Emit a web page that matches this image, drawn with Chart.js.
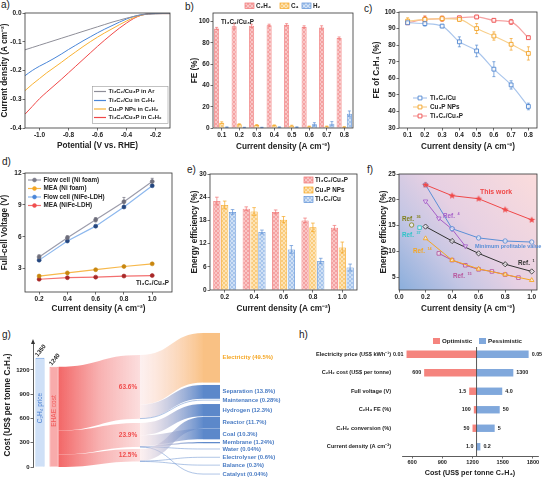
<!DOCTYPE html>
<html><head><meta charset="utf-8">
<script src="https://cdn.jsdelivr.net/npm/chart.js@4.4.1/dist/chart.umd.min.js"></script>
<style>
body{margin:0;width:546px;height:479px;position:relative;background:#fff;overflow:hidden;font-family:'Liberation Sans',Arial,sans-serif}
canvas{position:absolute}
.pl{position:absolute;font-size:10px;line-height:10px;color:#222}
</style></head><body>
<div class="pl" style="left:1px;top:0px">a)</div>
<div class="pl" style="left:185px;top:2px">b)</div>
<div class="pl" style="left:364px;top:4px">c)</div>
<div class="pl" style="left:2px;top:157px">d)</div>
<div class="pl" style="left:187px;top:165px">e)</div>
<div class="pl" style="left:367px;top:165px">f)</div>
<div class="pl" style="left:2px;top:330px">g)</div>
<div class="pl" style="left:299px;top:330px">h)</div>
<script>
// ================= DATA =================
// a) LSV curves
const potential = [-1.1,-1.05,-1.0,-0.95,-0.9,-0.85,-0.8,-0.75,-0.7,-0.65,-0.6,-0.55,-0.5,-0.45,-0.4,-0.35,-0.3,-0.25,-0.2,-0.15,-0.1];
const jArTi3C2Cu3P = [-0.128,-0.120,-0.112,-0.104,-0.096,-0.088,-0.080,-0.072,-0.064,-0.056,-0.048,-0.040,-0.032,-0.025,-0.018,-0.012,-0.007,-0.004,-0.003,-0.002,-0.002];
const jC2H2Ti3C2Cu = [-0.218,-0.200,-0.185,-0.172,-0.158,-0.143,-0.127,-0.112,-0.097,-0.083,-0.069,-0.056,-0.044,-0.032,-0.021,-0.012,-0.006,-0.003,-0.002,-0.002,-0.002];
const jC2H2Cu3P = [-0.270,-0.248,-0.228,-0.208,-0.190,-0.172,-0.153,-0.135,-0.117,-0.100,-0.084,-0.069,-0.055,-0.041,-0.028,-0.016,-0.008,-0.003,-0.002,-0.002,-0.002];
const jC2H2Ti3C2Cu3P = [-0.352,-0.325,-0.298,-0.275,-0.253,-0.231,-0.208,-0.185,-0.162,-0.139,-0.116,-0.094,-0.073,-0.053,-0.035,-0.019,-0.008,-0.003,-0.002,-0.002,-0.002];
const lsvNames = ['Ti₃C₂/Cu₃P in Ar','Ti₃C₂/Cu in C₂H₂','Cu₃P NPs in C₂H₂','Ti₃C₂/Cu₃P in C₂H₂'];

// b) FE of products
const jB = ['0.1','0.2','0.3','0.4','0.5','0.6','0.7','0.8'];
const feC2H4 = [93.5,95.5,96,96.5,97,95,94.5,84.5];
const feC2H4Err = [1,2.5,1.5,1,1,1,1.5,1];
const feC4 = [5,3.5,2.8,2.5,2.2,1.5,1.5,1.0];
const feC4Err = [0.8,0.5,0.4,0.4,0.4,0.3,0.3,0.2];
const feH2 = [0.8,0.5,0.5,0.8,0.8,3.5,4,13.5];
const feH2Err = [0.2,0.2,0.2,0.3,0.3,1.5,2,2.5];

// c) FE of C2H4
const jC = [0.1,0.2,0.3,0.4,0.5,0.6,0.7,0.8];
const feCu = [93.5,93,91.5,82,76.5,65.5,56,43];
const feCuErr = [1,1.5,1,3,3.5,4.5,2.5,2];
const feCu3P = [94.5,95.5,96,95.5,90,85.5,80.5,75];
const feCu3PErr = [2,2,1.5,1,3,2.5,3.5,4];
const feTiCu3P = [93.5,95.5,96,96.5,97,95,94,84.5];
const feTiCu3PErr = [1,2,1.5,1,1,1,1.5,1];
const cNames = ['Ti₃C₂/Cu','Cu₃P NPs','Ti₃C₂/Cu₃P'];

// d) full-cell voltage
const jD = [0.2,0.4,0.6,0.8,1.0];
const vFlowNi = [4.1,5.9,7.6,9.3,11.2];
const vMeaNi = [2.3,2.6,2.9,3.2,3.45];
const vFlowLdh = [3.8,5.6,7.0,8.8,10.8];
const vMeaLdh = [2.0,2.15,2.2,2.3,2.35];
const vFlowNiErr = [0.2,0.2,0.2,0.4,0.3];
const dNames = ['Flow cell (Ni foam)','MEA (Ni foam)','Flow cell (NiFe-LDH)','MEA (NiFe-LDH)'];

// e) energy efficiency
const jE = ['0.2','0.4','0.6','0.8','1.0'];
const eeTiCu3P = [23,21,20.2,18,16.1];
const eeTiCu3PErr = [1,0.5,0.5,0.6,0.6];
const eeCu3P = [22,20.3,18.2,16.2,11];
const eeCu3PErr = [1,1,0.8,1.1,1.4];
const eeTiCu = [20.2,15,10.5,7.5,5.8];
const eeTiCuErr = [0.6,0.5,1,0.7,0.9];
const eNames = ['Ti₃C₂/Cu₃P','Cu₃P NPs','Ti₃C₂/Cu'];

// f) comparison
const thisWorkJ = [0.2,0.4,0.6,0.8,1.0], thisWorkEE = [22.9,20.8,20.2,18.1,16.1];
const minProfJ = [0.2,0.4,0.6,0.8,1.0], minProfEE = [22.9,14.4,12.6,12.0,11.8];
const ref4J = [0.2,0.3,0.4,0.5], ref4EE = [19.7,16.4,14.3,11.0];
const ref1J = [0.2,0.4,0.6,0.8,1.0], ref1EE = [14.8,12.0,9.6,7.5,6.1];
const ref14J = [0.2,0.4,0.6,0.8,1.0], ref14EE = [12.5,8.3,6.6,5.5,4.4];
const ref15J = [0.3,0.4,0.5,0.6,0.7,0.8,0.9], ref15EE = [9.6,8.3,7.3,6.5,6.1,5.5,4.9];
const ref36J = [0.095], ref36EE = [15.1];
const ref37J = [0.155], ref37EE = [14.6];

// g) cost breakdown
const c2h4Price = 1350;
const ehaeCost = 1240;
const groupShares = [63.6, 23.9, 12.5];
const costNames = ['Electricity','Separation','Maintenance','Hydrogen','Reactor','Coal','Membrane','Water','Electrolyser','Balance','Catalyst'];
const costShares = [49.5,13.8,0.28,12.3,11.7,10.3,1.24,0.04,0.6,0.3,0.04];
const costGroup = [0,0,0,1,2,1,1,1,2,2,1];

// h) sensitivity
const sensParams = ['Electricity price (US$ kWh⁻¹)','C₂H₂ cost (US$ per tonne)','Full voltage (V)','C₂H₄ FE (%)','C₂H₂ conversion (%)','Current density (A cm⁻²)'];
const baseCost = 1240;
const optCost = [545,720,1167,1213,1200,1240];
const pessCost = [1757,1605,1495,1470,1420,1278];
const optLabels = ['0.01','600','1.5','100','50','1.0'];
const pessLabels = ['0.05','1300','4.0','50','5','0.2'];

// ================= LAYOUT (sankey node placement, value units) =================
const midBandTop = [1386, 545, 223];
const nodeTop = [1658,1015,829,779,619,470,309,223,124,25,-87];

// ================= HELPERS =================
const FF = "'Liberation Sans', Arial, Helvetica, sans-serif";
Chart.defaults.font.family = FF;
Chart.defaults.font.weight = 'bold';
Chart.defaults.color = '#222';
Chart.defaults.plugins.legend.display = false;
Chart.defaults.plugins.tooltip.enabled = false;
const TITLE = 8.2;

function T(ctx, s, x, y, size, color, align, opt) {
  opt = opt || {};
  ctx.save();
  ctx.font = (opt.w || 'bold') + ' ' + size + 'px ' + FF;
  ctx.fillStyle = color || '#222';
  ctx.textAlign = align || 'left';
  ctx.textBaseline = opt.b || 'middle';
  ctx.translate(x, y);
  if (opt.r) ctx.rotate(opt.r);
  ctx.fillText(s, 0, 0);
  ctx.restore();
}
function TS(ctx, main, sup, x, y, size, color) {
  ctx.save();
  ctx.font = 'bold ' + size + 'px ' + FF;
  ctx.fillStyle = color; ctx.textAlign = 'left'; ctx.textBaseline = 'middle';
  ctx.fillText(main, x, y);
  const w = ctx.measureText(main).width;
  ctx.font = 'bold ' + (size * 0.6) + 'px ' + FF;
  ctx.fillText(sup, x + w + 0.8, y - size * 0.4);
  ctx.restore();
}
function hatch(bg, ln) {
  const p = document.createElement('canvas'); p.width = 4; p.height = 4;
  const c = p.getContext('2d'); c.fillStyle = bg; c.fillRect(0, 0, 4, 4);
  c.strokeStyle = ln; c.lineWidth = 0.7; c.beginPath();
  c.moveTo(0, 0); c.lineTo(4, 4); c.moveTo(4, 0); c.lineTo(0, 4); c.stroke();
  return c.createPattern(p, 'repeat');
}
function starImg(color, r) {
  const c = document.createElement('canvas'); const s = Math.ceil(r * 2 + 2); c.width = c.height = s;
  const x = c.getContext('2d'); x.fillStyle = color; x.beginPath();
  for (let i = 0; i < 10; i++) { const a = -Math.PI / 2 + i * Math.PI / 5; const rr = i % 2 ? r * 0.45 : r; x.lineTo(s / 2 + rr * Math.cos(a), s / 2 + rr * Math.sin(a)); }
  x.closePath(); x.fill(); return c;
}
function pt(ctx, style, r, x, y, fill, stroke, bw, rot) {
  ctx.save(); ctx.fillStyle = fill; ctx.strokeStyle = stroke; ctx.lineWidth = bw;
  Chart.helpers.drawPoint(ctx, {pointStyle: style, radius: r, borderWidth: bw, rotation: rot || 0}, x, y);
  ctx.restore();
}
function ax(o) {
  const a = {
    type: o.type || 'linear',
    ticks: { font: {size: o.fs || 6.5, weight: 'bold', family: FF}, color: '#222', padding: o.tp != null ? o.tp : 1, maxRotation: 0, autoSkip: false },
    grid: { display: true, drawOnChartArea: false, drawTicks: true, tickLength: 2.5, color: '#333', lineWidth: 0.7, offset: false },
    border: { display: !!o.border, color: '#333', width: 0.8 },
    title: { display: !!o.title, text: o.title, font: {size: o.ts || TITLE, weight: 'bold', family: FF}, color: '#222', padding: {top: o.pt || 0, bottom: o.pb || 0} }
  };
  if (a.type === 'linear') {
    a.min = o.min; a.max = o.max;
    const tk = o.ticks;
    a.afterBuildTicks = s => { s.ticks = tk.map(v => ({value: v})); };
    if (o.fmt) a.ticks.callback = o.fmt;
  } else { a.offset = true; }
  return a;
}
Chart.register({
  id: 'frame',
  afterDraw(ch, a, opts) {
    if (!opts || !opts.on) return;
    const c = ch.ctx, ca = ch.chartArea;
    c.save(); c.strokeStyle = '#333'; c.lineWidth = 0.8;
    c.strokeRect(ca.left, ca.top, ca.right - ca.left, ca.bottom - ca.top); c.restore();
  }
});
function drawErr(ch) {
  const ctx = ch.ctx;
  ch.data.datasets.forEach((ds, i) => {
    if (!ds.err) return;
    const meta = ch.getDatasetMeta(i);
    const ys = ch.scales[meta.yAxisID];
    ctx.save(); ctx.strokeStyle = ds.errColor || ds.borderColor; ctx.lineWidth = 0.7;
    meta.data.forEach((el, j) => {
      const d = ds.data[j]; const v = (typeof d === 'object') ? d.y : d;
      const e = ds.err[j]; if (!e) return;
      const y1 = ys.getPixelForValue(v + e), y2 = ys.getPixelForValue(v - e);
      const x = el.x, cw = ds.capW || 1.5;
      ctx.beginPath(); ctx.moveTo(x, y1); ctx.lineTo(x, y2);
      ctx.moveTo(x - cw, y1); ctx.lineTo(x + cw, y1); ctx.moveTo(x - cw, y2); ctx.lineTo(x + cw, y2); ctx.stroke();
    });
    ctx.restore();
  });
}
Chart.register({
  id: 'errbars',
  beforeDatasetsDraw(ch) { if (ch.config.type !== 'bar') drawErr(ch); },
  afterDatasetsDraw(ch) { if (ch.config.type === 'bar') drawErr(ch); }
});
function mk(rect, area, cfg, hooks) {
  hooks = hooks || {};
  const cv = document.createElement('canvas');
  cv.width = rect.w; cv.height = rect.h;
  cv.style.left = rect.x + 'px'; cv.style.top = rect.y + 'px';
  cv.style.width = rect.w + 'px'; cv.style.height = rect.h + 'px';
  document.body.appendChild(cv);
  const o = cfg.options = cfg.options || {};
  o.responsive = false; o.animation = false; o.devicePixelRatio = 1;
  o.layout = { padding: { left: 0, top: area.t - rect.y, right: rect.x + rect.w - area.r, bottom: 0 } };
  o.scales.x.afterFit = s => { s.height = rect.y + rect.h - area.b; };
  o.scales.y.afterFit = s => { s.width = area.l - rect.x; };
  cfg.plugins = [{
    id: 'ov',
    beforeDatasetsDraw(ch) { if (hooks.before) { ch.ctx.save(); ch.ctx.translate(-rect.x, -rect.y); hooks.before(ch.ctx, ch, rect); ch.ctx.restore(); } },
    afterDraw(ch) { if (hooks.after) { ch.ctx.save(); ch.ctx.translate(-rect.x, -rect.y); hooks.after(ch.ctx, ch, rect); ch.ctx.restore(); } }
  }];
  return new Chart(cv, cfg);
}
const xy = (xs, ys) => xs.map((x, i) => ({x, y: ys[i]}));
const f1 = v => v.toFixed(1);

// ================= a =================
const lsvSeries = [jArTi3C2Cu3P, jC2H2Ti3C2Cu, jC2H2Cu3P, jC2H2Ti3C2Cu3P];
const lsvColors = ['#8E8E98', '#4A86D8', '#F9B233', '#F04848'];
mk({x:0, y:0, w:180, h:155}, {l:25, r:170, t:13, b:128}, {
  type: 'line',
  data: { datasets: lsvSeries.map((s, i) => ({ data: xy(potential, s), borderColor: lsvColors[i], borderWidth: 1, pointRadius: 0, cubicInterpolationMode: 'monotone' })) },
  options: { scales: {
    x: ax({min:-1.1, max:-0.1, ticks:[-1.0,-0.8,-0.6,-0.4,-0.2], fmt:f1, title:'Potential (V vs. RHE)', pb:4}),
    y: ax({min:-0.4, max:0, ticks:[0,-0.1,-0.2,-0.3,-0.4], fmt:f1, title:'Current density (A cm⁻²)', pt:0.2})
  }, plugins: { frame: {on: true} } }
}, { after(ctx) {
  ctx.strokeStyle = '#9a9a9a'; ctx.lineWidth = 0.6; ctx.strokeRect(92.5, 86.5, 75.5, 37);
  const ly = [91.5, 100.5, 109, 117.5];
  lsvNames.forEach((n, i) => {
    ctx.strokeStyle = lsvColors[i]; ctx.lineWidth = 1.2; ctx.beginPath(); ctx.moveTo(94, ly[i]); ctx.lineTo(106, ly[i]); ctx.stroke();
    T(ctx, n, 108.5, ly[i], 5.9, '#222', 'left');
  });
}});

// ================= b =================
const patPink = hatch('#F9C6C6', '#F29090');
const patOrange = hatch('#FDE3B6', '#F8C060');
const patBlue = hatch('#CFE0F5', '#93B7E6');
mk({x:180, y:0, w:182, h:155}, {l:213, r:353, t:13, b:128}, {
  type: 'bar',
  data: { labels: jB, datasets: [
    {data: feC2H4, err: feC2H4Err, backgroundColor: patPink, borderColor: '#F07272', borderWidth: 0.8, categoryPercentage: 0.88, barPercentage: 0.97},
    {data: feC4, err: feC4Err, backgroundColor: patOrange, borderColor: '#F5A623', borderWidth: 0.8, categoryPercentage: 0.88, barPercentage: 0.97},
    {data: feH2, err: feH2Err, backgroundColor: patBlue, borderColor: '#5B8FD6', borderWidth: 0.8, categoryPercentage: 0.88, barPercentage: 0.97}
  ]},
  options: { scales: {
    x: ax({type:'category', title:'Current density (A cm⁻²)', pb:3.2}),
    y: ax({min:0, max:108, ticks:[0,20,40,60,80,100], fmt:v => String(v), title:'FE (%)', pt:10.2})
  }, plugins: { frame: {on: true} } }
}, { after(ctx) {
  T(ctx, 'Ti₃C₂/Cu₃P', 221, 22, 6.3, '#222', 'left');
  const lx = [245, 280, 302], lab = ['C₂H₄', 'C₄', 'H₂'], pats = [patPink, patOrange, patBlue], bc = ['#F07272', '#F5A623', '#5B8FD6'];
  lab.forEach((l, i) => {
    ctx.fillStyle = pats[i]; ctx.fillRect(lx[i], 3, 9, 5.5);
    ctx.strokeStyle = bc[i]; ctx.lineWidth = 0.7; ctx.strokeRect(lx[i], 3, 9, 5.5);
    T(ctx, l, lx[i] + 11, 6, 6.3, '#222', 'left');
  });
}});

// ================= c =================
const cLine = ['#A9C5EC', '#F8CF8B', '#F6A3A3'], cMark = ['#4F86D0', '#F2A124', '#EE4F4F'];
const cData = [[feCu, feCuErr], [feCu3P, feCu3PErr], [feTiCu3P, feTiCu3PErr]];
mk({x:362, y:0, w:184, h:155}, {l:399, r:537, t:12, b:128}, {
  type: 'line',
  data: { datasets: cData.map((d, i) => ({ data: xy(jC, d[0]), err: d[1], errColor: cMark[i], borderColor: cLine[i], borderWidth: 1.2, cubicInterpolationMode: 'monotone',
    pointStyle: 'rect', pointRadius: 2.7, pointBorderWidth: 0.9, pointBorderColor: cMark[i], pointBackgroundColor: 'rgba(255,255,255,0.85)' })) },
  options: { scales: {
    x: ax({min:0.05, max:0.85, ticks:jC, fmt:f1, title:'Current density (A cm⁻²)', pb:3.2}),
    y: ax({min:30, max:100, ticks:[30,40,50,60,70,80,90,100], fmt:v => String(v), title:'FE of C₂H₄ (%)', pt:10.2})
  }, plugins: { frame: {on: true} } }
}, { after(ctx) {
  const ly = [98, 107, 116];
  cNames.forEach((n, i) => {
    ctx.strokeStyle = cLine[i]; ctx.lineWidth = 1.2; ctx.beginPath(); ctx.moveTo(413, ly[i]); ctx.lineTo(427, ly[i]); ctx.stroke();
    pt(ctx, 'rect', 2.7, 420, ly[i], '#fff', cMark[i], 0.9);
    T(ctx, n, 430, ly[i], 6.3, '#222', 'left');
  });
}});

// ================= d =================
const dLine = ['#9C9CAB', '#F7B84B', '#8DB8EE', '#F37070'];
const dMark = ['#6E6E7C', '#C8860E', '#24467F', '#A82828'];
const dLeg = ['#7C7C8A', '#F5A623', '#4A86D8', '#EF5050'];
const dSeries = [vFlowNi, vMeaNi, vFlowLdh, vMeaLdh];
mk({x:0, y:155, w:180, h:160}, {l:25, r:172, t:173, b:292}, {
  type: 'line',
  data: { datasets: dSeries.map((s, i) => ({ data: xy(jD, s), err: i === 0 ? vFlowNiErr : null, errColor: dMark[i], borderColor: dLine[i], borderWidth: 1.2,
    pointStyle: 'circle', pointRadius: 2, pointBorderWidth: 0.6, pointBorderColor: dMark[i], pointBackgroundColor: dMark[i] })) },
  options: { scales: {
    x: ax({min:0.1, max:1.14, ticks:jD, fmt:f1, title:'Current density (A cm⁻²)', pb:1.2}),
    y: ax({min:0.8, max:12, ticks:[3,6,9,12], fmt:v => String(v), title:'Full-cell Voltage (V)', pt:0.2})
  }, plugins: { frame: {on: true} } }
}, { after(ctx) {
  const ly = [180, 188.5, 197, 205.5];
  dNames.forEach((n, i) => {
    ctx.strokeStyle = dLine[i]; ctx.lineWidth = 1.2; ctx.beginPath(); ctx.moveTo(28, ly[i]); ctx.lineTo(41, ly[i]); ctx.stroke();
    pt(ctx, 'circle', 2, 34.5, ly[i], dLeg[i], dLeg[i], 0.5);
    T(ctx, n, 43.5, ly[i], 6.3, '#222', 'left');
  });
  T(ctx, 'Ti₃C₂/Cu₃P', 169, 283, 6.3, '#222', 'right');
}});

// ================= e =================
const eBorder = ['#F07272', '#F5A623', '#5B8FD6'], ePats = [patPink, patOrange, patBlue];
const eData = [[eeTiCu3P, eeTiCu3PErr], [eeCu3P, eeCu3PErr], [eeTiCu, eeTiCuErr]];
mk({x:180, y:155, w:182, h:160}, {l:210, r:357, t:174, b:290}, {
  type: 'bar',
  data: { labels: jE, datasets: eData.map((d, i) => ({ data: d[0], err: d[1], backgroundColor: ePats[i], borderColor: eBorder[i], borderWidth: 0.8, categoryPercentage: 0.8, barPercentage: 0.92, capW: 1.8 })) },
  options: { scales: {
    x: ax({type:'category', title:'Current density (A cm⁻²)', pb:1.2}),
    y: ax({min:0, max:30, ticks:[0,6,12,18,24,30], fmt:v => String(v), title:'Energy efficiency (%)', pt:10.2})
  }, plugins: { frame: {on: true} } }
}, { after(ctx) {
  const ly = [180, 190, 199.5];
  eNames.forEach((n, i) => {
    ctx.fillStyle = ePats[i]; ctx.fillRect(304, ly[i] - 3, 9, 6);
    ctx.strokeStyle = eBorder[i]; ctx.lineWidth = 0.7; ctx.strokeRect(304, ly[i] - 3, 9, 6);
    T(ctx, n, 315, ly[i], 6.3, '#222', 'left');
  });
}});

// ================= f =================
const starRed = starImg('#F04848', 3.6);
const fSets = [
  {j: thisWorkJ, v: thisWorkEE, c: '#F04848', ps: starRed, r: 3.6},
  {j: minProfJ, v: minProfEE, c: '#5B8FD6', ps: 'circle', r: 2.2},
  {j: ref4J, v: ref4EE, c: '#A65FC8', ps: 'triangle', r: 2.6, rot: 180},
  {j: ref1J, v: ref1EE, c: '#333333', ps: 'rectRot', r: 2.6},
  {j: ref14J, v: ref14EE, c: '#F5A623', ps: 'triangle', r: 2.6},
  {j: ref15J, v: ref15EE, c: '#B8569C', ps: 'rect', r: 2.5},
  {j: ref36J, v: ref36EE, c: '#8A8A22', ps: 'circle', r: 2.2},
  {j: ref37J, v: ref37EE, c: '#2EC4C8', ps: 'rect', r: 2.5}
];
mk({x:362, y:155, w:184, h:160}, {l:399, r:537, t:174, b:290}, {
  type: 'line',
  data: { datasets: fSets.map((s, i) => ({ data: xy(s.j, s.v), order: i === 0 ? -1 : i, borderColor: s.c, borderWidth: 1, pointStyle: s.ps, pointRadius: s.r, pointRotation: s.rot || 0,
    pointBorderColor: s.c, pointBorderWidth: 0.9, pointBackgroundColor: 'rgba(255,255,255,0.55)' })) },
  options: { scales: {
    x: ax({min:0, max:1.04, ticks:[0,0.2,0.4,0.6,0.8,1.0], fmt:f1, title:'Current density (A cm⁻²)', pb:1.2}),
    y: ax({min:2.5, max:25, ticks:[5,10,15,20,25], fmt:v => String(v), title:'Energy efficiency (%)', pt:17.2})
  }, plugins: { frame: {on: true} } }
}, {
  before(ctx, ch, R) {
    const ca = ch.chartArea;
    const l = ca.left + R.x, t = ca.top + R.y, r = ca.right + R.x, b = ca.bottom + R.y;
    const g = ctx.createLinearGradient(l, b, r, t);
    g.addColorStop(0, '#8AAEDC'); g.addColorStop(0.28, '#C4C6E4'); g.addColorStop(0.52, '#E6D0E3'); g.addColorStop(1, '#FBDCDC');
    ctx.fillStyle = g; ctx.fillRect(l, t, r - l, b - t);
  },
  after(ctx) {
    T(ctx, 'This work', 480, 192, 6.9, '#F04848', 'left');
    TS(ctx, 'Ref. ', '4', 443, 216, 6.3, '#A65FC8');
    TS(ctx, 'Ref. ', '36', 402, 219, 6.3, '#7F7F1A');
    TS(ctx, 'Ref. ', '37', 402, 235, 6.3, '#2EC4C8');
    TS(ctx, 'Ref. ', '14', 413, 251.5, 6.3, '#F5A623');
    T(ctx, 'Minimum profitable value', 475, 246.5, 5.5, '#5B8FD6', 'left');
    TS(ctx, 'Ref. ', '1', 518, 263, 6.3, '#333');
    TS(ctx, 'Ref. ', '15', 453, 276.5, 6.3, '#B8569C');
  }
});

// ================= g =================
function band(ctx, xa, ya1, ya2, xb, yb1, yb2, fill) {
  const xc = (xa + xb) / 2;
  ctx.beginPath();
  ctx.moveTo(xa, ya1);
  ctx.bezierCurveTo(xc, ya1, xc, yb1, xb, yb1);
  ctx.lineTo(xb, yb2);
  ctx.bezierCurveTo(xc, yb2, xc, ya2, xa, ya2);
  ctx.closePath();
  ctx.fillStyle = fill; ctx.fill();
}
mk({x:0, y:318, w:284, h:161}, {l:33, r:61, t:343, b:467}, {
  type: 'bar',
  data: { labels: ['C₂H₄ price', 'EHAE cost'], datasets: [{ data: [c2h4Price, ehaeCost], backgroundColor: ['#CFE0F7', '#F8ABAB'], borderColor: ['#6E9FE2', '#F47B7B'], borderWidth: 0.8, categoryPercentage: 1, barPercentage: 0.64 }] },
  options: { scales: {
    x: { type: 'category', display: true, ticks: {display: false}, grid: {display: false}, border: {display: false} },
    y: ax({min:0, max:1534, ticks:[0,300,600,900,1200], fmt:v => String(v), title:'Cost (US$ per tonne C₂H₄)', pt:3.2, border:true, fs:6})
  } }
}, { after(ctx, ch, R) {
  const ys = ch.scales.y, ca = ch.chartArea;
  const py = v => ys.getPixelForValue(v) + R.y;
  const bars = ch.getDatasetMeta(0).data;
  const blue = bars[0], red = bars[1];
  const axx = ca.left + R.x, axt = ca.top + R.y;
  ctx.fillStyle = '#333'; ctx.beginPath(); ctx.moveTo(axx, axt - 4); ctx.lineTo(axx - 2, axt + 1); ctx.lineTo(axx + 2, axt + 1); ctx.closePath(); ctx.fill();
  T(ctx, String(c2h4Price), blue.x - blue.width / 2 + R.x + 1, blue.y + R.y - 2, 6, '#222', 'left', {r: -0.9});
  T(ctx, String(ehaeCost), red.x - red.width / 2 + R.x + 1, red.y + R.y - 2, 6, '#222', 'left', {r: -0.9});
  T(ctx, 'C₂H₄ price', blue.x + R.x, 408, 6.5, '#4A7FD0', 'center', {w: 'normal', r: -Math.PI / 2});
  T(ctx, 'EHAE cost', red.x + R.x, 411, 6.5, '#F05A5A', 'center', {w: 'normal', r: -Math.PI / 2});
  const x0 = red.x + red.width / 2 + R.x;
  const xm = ca.right + R.x + 79, xn = ca.right + R.x + 142, x2 = ca.right + R.x + 159;
  let lt = ehaeCost;
  const gv = groupShares.map(g => g / 100 * ehaeCost);
  groupShares.forEach((g, i) => {
    const gr = ctx.createLinearGradient(x0, 0, xm, 0);
    gr.addColorStop(0, 'rgba(242,98,98,0.97)'); gr.addColorStop(0.5, 'rgba(247,168,168,0.9)'); gr.addColorStop(1, 'rgba(251,216,216,0.85)');
    band(ctx, x0, py(lt), py(lt - gv[i]), xm, py(midBandTop[i]), py(midBandTop[i] - gv[i]), gr);
    lt -= gv[i];
  });
  const midStack = midBandTop.slice();
  [0, 1, 2].forEach(g => {
    costShares.forEach((s, j) => {
      if (costGroup[j] !== g) return;
      const v = s / 100 * ehaeCost;
      const ya1 = py(midStack[g]), ya2 = py(midStack[g] - v);
      midStack[g] -= v;
      const yb1 = py(nodeTop[j]), yb2 = py(nodeTop[j] - v);
      const col = j === 0 ? '249,188,122' : '78,126,198';
      if (ya2 - ya1 < 0.9) {
        const yc = (ya1 + ya2) / 2, yd = (yb1 + yb2) / 2, xc = (xm + xn) / 2;
        ctx.save(); ctx.strokeStyle = 'rgba(' + col + ',0.75)'; ctx.lineWidth = 0.6;
        ctx.beginPath(); ctx.moveTo(xm, yc); ctx.bezierCurveTo(xc, yc, xc, yd, xn, yd); ctx.lineTo(x2, yd); ctx.stroke(); ctx.restore();
      } else {
        const gr = ctx.createLinearGradient(xm, 0, xn, 0);
        gr.addColorStop(0, 'rgba(251,222,222,0.45)'); gr.addColorStop(1, 'rgba(' + col + ',0.9)');
        band(ctx, xm, ya1, ya2, xn, yb1, yb2, gr);
        ctx.fillStyle = 'rgba(' + col + ',0.92)'; ctx.fillRect(xn, yb1, x2 - xn, yb2 - yb1);
      }
      T(ctx, costNames[j] + ' (' + s + '%)', x2 + 2.5, (yb1 + yb2) / 2, 5.9, j === 0 ? '#F5A623' : '#4A7CC4', 'left');
    });
  });
  groupShares.forEach((g, i) => {
    T(ctx, g.toFixed(1) + '%', 128, py(midBandTop[i] - gv[i] / 2), 6.5, '#F04E4E', 'center');
  });
}});

// ================= h =================
mk({x:270, y:318, w:276, h:161}, {l:402, r:538, t:345, b:456}, {
  type: 'bar',
  data: { labels: sensParams, datasets: [
    {data: optCost.map(v => [v, baseCost]), backgroundColor: '#F5847E', categoryPercentage: 1, barPercentage: 0.4},
    {data: pessCost.map(v => [baseCost, v]), backgroundColor: '#80A8DC', categoryPercentage: 1, barPercentage: 0.4}
  ]},
  options: { indexAxis: 'y', scales: {
    x: Object.assign(ax({min:500, max:1850, ticks:[600,900,1200,1500,1800], fmt:v => String(v), title:'Cost (US$ per tonne C₂H₄)', ts:7.2, pb:1.5, border:true, fs:5.6}), {stacked: false}),
    y: { type: 'category', stacked: true, offset: true, grid: {display: false, drawTicks: false}, border: {display: false}, ticks: {font: {size: 5.6, weight: 'bold', family: FF}, color: '#222', padding: 11, autoSkip: false} }
  } }
}, { after(ctx, ch, R) {
  const xs = ch.scales.x, ca = ch.chartArea;
  const xb = xs.getPixelForValue(baseCost) + R.x;
  ctx.strokeStyle = '#444'; ctx.lineWidth = 0.9; ctx.beginPath(); ctx.moveTo(xb, ca.top + R.y + 2); ctx.lineTo(xb, ca.bottom + R.y); ctx.stroke();
  const m0 = ch.getDatasetMeta(0), m1 = ch.getDatasetMeta(1);
  m0.data.forEach((el, i) => { T(ctx, optLabels[i], xs.getPixelForValue(optCost[i]) + R.x - 3, el.y + R.y, 5.4, '#222', 'right'); });
  m1.data.forEach((el, i) => { T(ctx, pessLabels[i], xs.getPixelForValue(pessCost[i]) + R.x + 3, el.y + R.y, 5.4, '#222', 'left'); });
  ctx.fillStyle = '#F5847E'; ctx.fillRect(433, 338, 7, 6);
  T(ctx, 'Optimistic', 442, 341, 6.2, '#222', 'left');
  ctx.fillStyle = '#80A8DC'; ctx.fillRect(479, 338, 7, 6);
  T(ctx, 'Pessimistic', 488, 341, 6.2, '#222', 'left');
}});
</script>
</body></html>
